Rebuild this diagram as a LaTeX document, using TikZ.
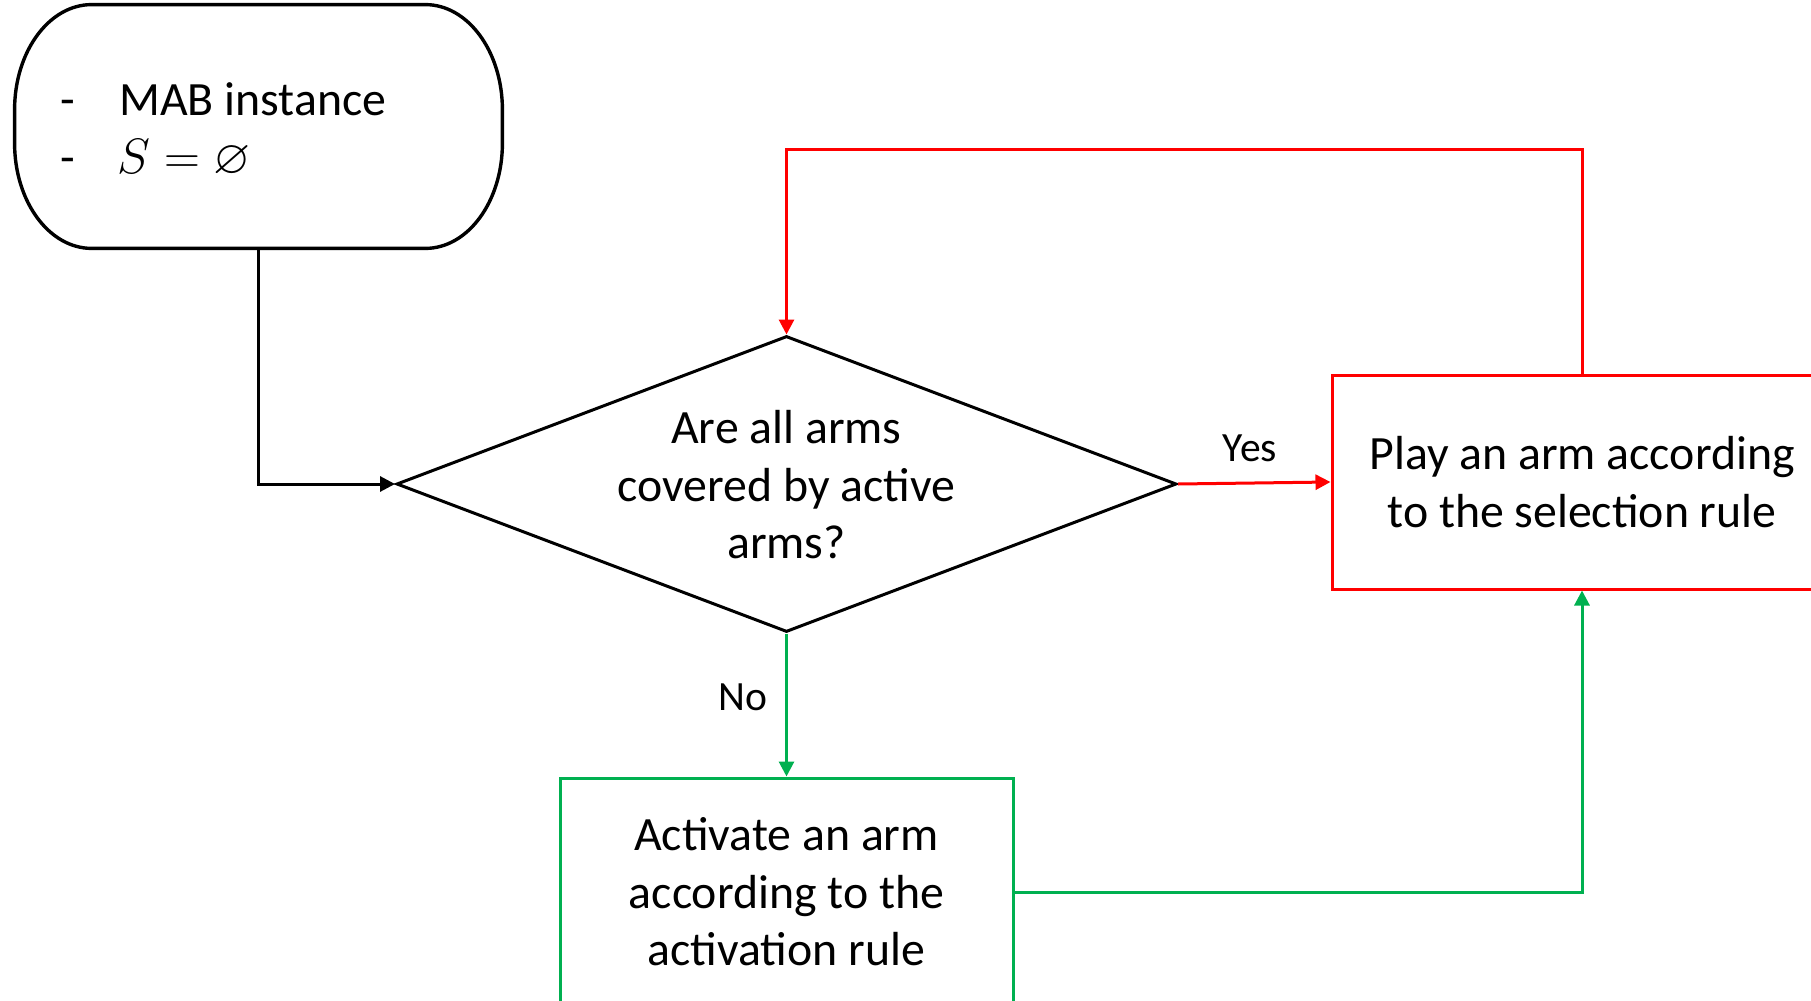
\documentclass[tikz,border=0pt]{standalone}
\usepackage{amssymb}
\usepackage{fontspec}
\setmainfont{Carlito}
\usetikzlibrary{arrows.meta,shapes.geometric}

\definecolor{flowred}{HTML}{FF0000}
\definecolor{flowgreen}{HTML}{00B050}

\tikzset{
  bodytext/.style={font=\fontsize{23.9pt}{28.75pt}\selectfont},
  labeltext/.style={font=\fontsize{20.8pt}{24pt}\selectfont, inner sep=0pt},
  tip/.style={-{Triangle[length=7.5pt,width=7.5pt]}},
  decision/.style={diamond, draw=black, line width=1.5pt, inner sep=0pt,
    minimum width=390pt, minimum height=148pt, aspect=2.635},
  redbox/.style={rectangle, draw=flowred, line width=1.5pt, bodytext,
    align=center, minimum width=250pt, minimum height=107pt},
  greenbox/.style={rectangle, draw=flowgreen, line width=1.5pt, bodytext,
    align=center, minimum width=226.5pt, minimum height=114pt},
  redlink/.style={draw=flowred, line width=1.5pt, tip},
  greenlink/.style={draw=flowgreen, line width=1.5pt, tip},
  blacklink/.style={draw=black, line width=1.5pt, tip},
}

\begin{document}
\begin{tikzpicture}[x=0.5pt, y=-0.5pt]
  \clip (0,0) rectangle (1811,1001);

  % start terminal: rounded box with elliptical ends
  \node[minimum width=243.5pt, minimum height=121.5pt, inner sep=0pt] (start) at (258.5,126.5) {};
  \draw[line width=1.7pt]
    ([xshift=38.5pt]start.north west) -- ([xshift=-38.5pt]start.north east)
    arc[start angle=90, end angle=0, x radius=38.5pt, y radius=52.5pt]
    -- ([yshift=52.5pt]start.south east)
    arc[start angle=0, end angle=-90, x radius=38.5pt, y radius=52.5pt]
    -- ([xshift=38.5pt]start.south west)
    arc[start angle=270, end angle=180, x radius=38.5pt, y radius=52.5pt]
    -- ([yshift=-52.5pt]start.north west)
    arc[start angle=180, end angle=90, x radius=38.5pt, y radius=52.5pt]
    -- cycle;
  \node[bodytext, anchor=base west, inner sep=0pt] (dashA) at (60,115) {-};
  \node[bodytext, anchor=base west, inner sep=0pt] (itemA) at (119,115) {MAB instance};
  \node[bodytext, anchor=base west, inner sep=0pt] (dashB) at (60,173) {-};
  \node[bodytext, anchor=base west, inner sep=0pt] (itemB) at (117,173) {$S=\varnothing$};

  % decision
  \node[decision] (dec) at (786.5,484) {};
  \node[bodytext, align=center, inner sep=0pt] (decText) at (786.5,485)
    {Are all arms\\covered by active\\arms?};

  % actions
  \node[redbox] (play) at (1582,482) {Play an arm according\\to the selection rule};
  \node[greenbox] (act) at (786.5,892) {Activate an arm\\according to the\\activation rule};

  % connectors
  \draw[blacklink] (start.south) |- (dec.west);
  \draw[redlink] (dec.east) -- (play.west);
  \node[labeltext] (yes) at (1250,448) {Yes};
  \coordinate (loopTop) at (786.5,149);
  \draw[redlink] (play.north) |- (loopTop) -- (dec.north);
  \draw[greenlink] (dec.south) -- (act.north);
  \node[labeltext] (no) at (743,697) {No};
  \draw[greenlink] (act.east) -| (play.south);
\end{tikzpicture}
\end{document}
